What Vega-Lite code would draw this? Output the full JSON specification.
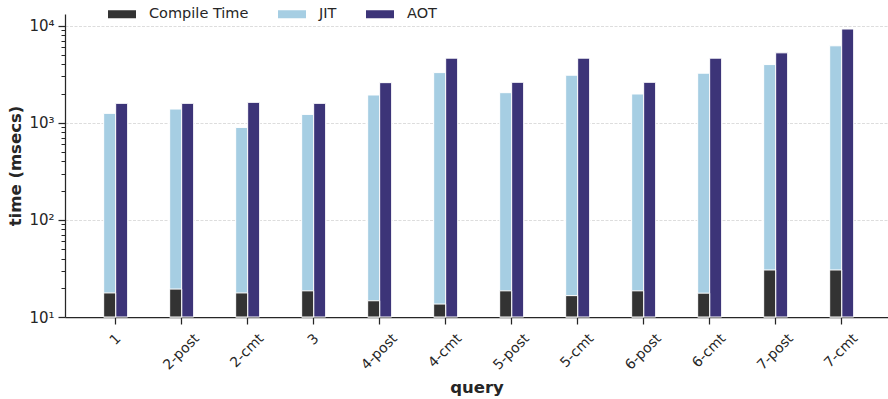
{
  "$schema": "https://vega.github.io/schema/vega-lite/v6.json",
  "width": 823,
  "height": 303,
  "autosize": {"type": "none"},
  "padding": {"left": 65, "top": 14, "right": 0, "bottom": 82},
  "background": "white",
  "config": {
    "font": "DejaVu Sans",
    "view": {"stroke": null},
    "axis": {
      "labelColor": "#262626",
      "titleColor": "#262626",
      "domainColor": "#262626",
      "tickColor": "#262626",
      "labelFont": "DejaVu Sans",
      "titleFont": "DejaVu Sans"
    }
  },
  "data": {
    "values": [
      {"query": "1", "mode": "JIT", "series": "JIT", "ms": 1251},
      {"query": "1", "mode": "AOT", "series": "AOT", "ms": 1587},
      {"query": "1", "mode": "JIT", "series": "Compile Time", "ms": 17.7},
      {"query": "2-post", "mode": "JIT", "series": "JIT", "ms": 1386},
      {"query": "2-post", "mode": "AOT", "series": "AOT", "ms": 1587},
      {"query": "2-post", "mode": "JIT", "series": "Compile Time", "ms": 19.4},
      {"query": "2-cmt", "mode": "JIT", "series": "JIT", "ms": 896},
      {"query": "2-cmt", "mode": "AOT", "series": "AOT", "ms": 1625},
      {"query": "2-cmt", "mode": "JIT", "series": "Compile Time", "ms": 17.7},
      {"query": "3", "mode": "JIT", "series": "JIT", "ms": 1221},
      {"query": "3", "mode": "AOT", "series": "AOT", "ms": 1587},
      {"query": "3", "mode": "JIT", "series": "Compile Time", "ms": 18.6},
      {"query": "4-post", "mode": "JIT", "series": "JIT", "ms": 1934},
      {"query": "4-post", "mode": "AOT", "series": "AOT", "ms": 2592},
      {"query": "4-post", "mode": "JIT", "series": "Compile Time", "ms": 14.7},
      {"query": "4-cmt", "mode": "JIT", "series": "JIT", "ms": 3289},
      {"query": "4-cmt", "mode": "AOT", "series": "AOT", "ms": 4634},
      {"query": "4-cmt", "mode": "JIT", "series": "Compile Time", "ms": 13.6},
      {"query": "5-post", "mode": "JIT", "series": "JIT", "ms": 2043},
      {"query": "5-post", "mode": "AOT", "series": "AOT", "ms": 2614},
      {"query": "5-post", "mode": "JIT", "series": "Compile Time", "ms": 18.6},
      {"query": "5-cmt", "mode": "JIT", "series": "JIT", "ms": 3091},
      {"query": "5-cmt", "mode": "AOT", "series": "AOT", "ms": 4634},
      {"query": "5-cmt", "mode": "JIT", "series": "Compile Time", "ms": 16.6},
      {"query": "6-post", "mode": "JIT", "series": "JIT", "ms": 1980},
      {"query": "6-post", "mode": "AOT", "series": "AOT", "ms": 2614},
      {"query": "6-post", "mode": "JIT", "series": "Compile Time", "ms": 18.6},
      {"query": "6-cmt", "mode": "JIT", "series": "JIT", "ms": 3243},
      {"query": "6-cmt", "mode": "AOT", "series": "AOT", "ms": 4634},
      {"query": "6-cmt", "mode": "JIT", "series": "Compile Time", "ms": 17.6},
      {"query": "7-post", "mode": "JIT", "series": "JIT", "ms": 3979},
      {"query": "7-post", "mode": "AOT", "series": "AOT", "ms": 5256},
      {"query": "7-post", "mode": "JIT", "series": "Compile Time", "ms": 30.5},
      {"query": "7-cmt", "mode": "JIT", "series": "JIT", "ms": 6210},
      {"query": "7-cmt", "mode": "AOT", "series": "AOT", "ms": 9247},
      {"query": "7-cmt", "mode": "JIT", "series": "Compile Time", "ms": 30.5}
    ]
  },
  "encoding": {
    "x": {
      "field": "query",
      "type": "nominal",
      "sort": null,
      "scale": {"paddingInner": 0, "paddingOuter": 0.2348, "align": 0.57},
      "axis": {
        "title": "query",
        "titleFontSize": 16.5,
        "titleFontWeight": "bold",
        "titleX": 411.5,
        "titleY": 75,
        "titleBaseline": "alphabetic",
        "domainWidth": 1.25,
        "tickSize": 7,
        "tickWidth": 1.25,
        "labelAngle": -45,
        "labelAlign": "right",
        "labelBaseline": "middle",
        "labelFontSize": 14,
        "labelPadding": 12,
        "labelOffset": {
          "condition": [
            {"test": "length(datum.label) >= 6", "value": 15.5},
            {"test": "length(datum.label) == 5", "value": 14}
          ],
          "value": 3
        },
        "grid": false
      }
    },
    "xOffset": {
      "field": "mode",
      "type": "nominal",
      "sort": ["JIT", "AOT"],
      "scale": {"range": [21, 45], "paddingInner": 0, "paddingOuter": 0}
    },
    "y2": {"datum": 10},
    "color": {
      "field": "series",
      "type": "nominal",
      "scale": {
        "domain": ["Compile Time", "JIT", "AOT"],
        "range": ["#333333", "#a6cee3", "#3c3478"]
      },
      "legend": {
        "orient": "none",
        "legendX": 43,
        "legendY": -14,
        "direction": "horizontal",
        "title": null,
        "padding": 0,
        "symbolType": "M-1,-0.286H1V0.286H-1Z",
        "symbolSize": 784,
        "symbolStrokeWidth": 0,
        "symbolOpacity": 1,
        "labelFontSize": 14.5,
        "labelColor": "#262626",
        "labelOffset": 13,
        "columnPadding": 29
      }
    }
  },
  "layer": [
    {
      "transform": [{"filter": "datum.series !== 'Compile Time'"}],
      "mark": {"type": "bar", "stroke": "white", "strokeWidth": 1, "opacity": 1},
      "encoding": {
        "y": {
          "field": "ms",
          "type": "quantitative",
          "scale": {"type": "log", "domain": [10, 13200], "nice": false},
          "axis": {
            "orient": "left",
            "values": [10, 100, 1000, 10000],
            "labelExpr": "datum.value == 10 ? '10¹' : datum.value == 100 ? '10²' : datum.value == 1000 ? '10³' : '10⁴'",
            "labelFontSize": 15,
            "labelPadding": 4,
            "tickSize": 7,
            "tickWidth": 1.25,
            "domainWidth": 1.25,
            "grid": true,
            "gridDash": [3, 1.5],
            "gridColor": "#d4d4d4",
            "gridWidth": 0.8,
            "title": "time (msecs)",
            "titleFontSize": 16.5,
            "titleFontWeight": "bold",
            "titleAngle": -90,
            "titleX": -49.5,
            "titleY": 151.5,
            "titleAlign": "center",
            "titleBaseline": "middle"
          }
        }
      }
    },
    {
      "transform": [{"filter": "datum.series === 'Compile Time'"}],
      "mark": {"type": "bar", "stroke": "white", "strokeWidth": 1, "opacity": 1},
      "encoding": {
        "y": {
          "field": "ms",
          "type": "quantitative",
          "scale": {"type": "log", "domain": [10, 13200], "nice": false},
          "axis": {
            "orient": "left",
            "values": [20, 30, 40, 50, 60, 70, 80, 90, 200, 300, 400, 500, 600, 700, 800, 900, 2000, 3000, 4000, 5000, 6000, 7000, 8000, 9000],
            "labels": false,
            "domain": false,
            "grid": false,
            "tickSize": 4,
            "tickWidth": 1,
            "title": null
          }
        }
      }
    }
  ],
  "resolve": {"axis": {"y": "independent"}}
}
